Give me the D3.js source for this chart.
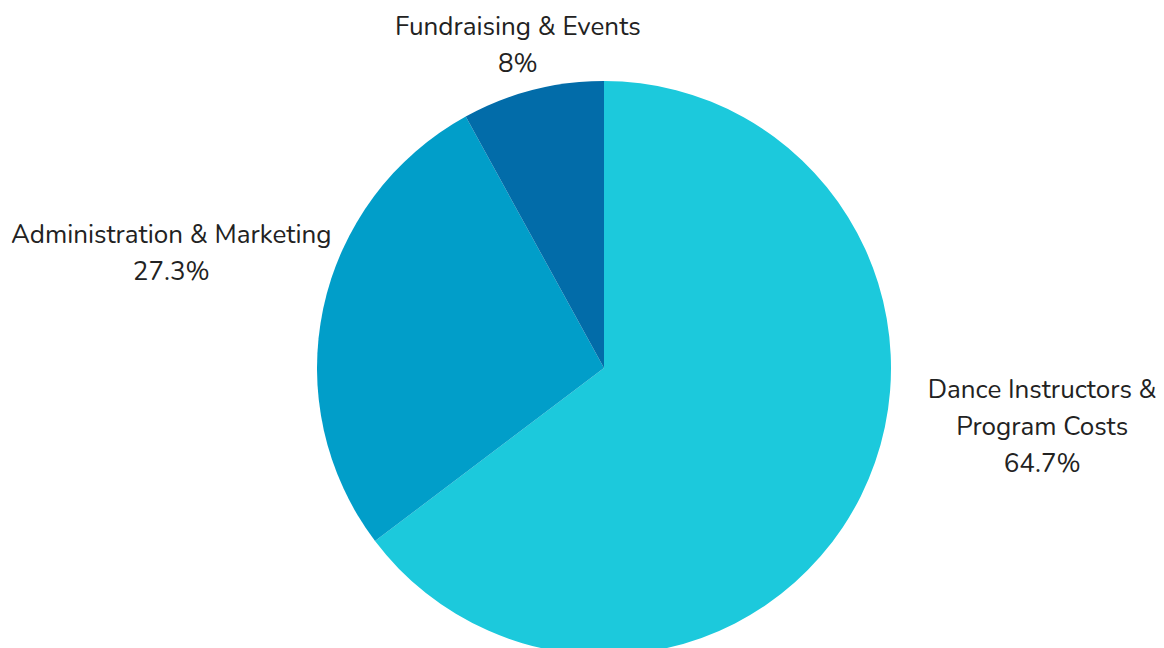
<!DOCTYPE html>
<html>
<head>
<meta charset="utf-8">
<script src="https://cdn.jsdelivr.net/npm/d3@7"></script>
<style>
  body { margin: 0; background: #fff; }
  svg { display: block; }
</style>
</head>
<body>
<svg id="chart" width="1164" height="648"></svg>
<script>
// data
var categories = ["Dance Instructors & Program Costs", "Administration & Marketing", "Fundraising & Events"];
var values = [64.7, 27.3, 8];
var valueLabels = ["64.7%", "27.3%", "8%"];
var labelLines = [["Dance Instructors &", "Program Costs"], ["Administration & Marketing"], ["Fundraising & Events"]];
var colors = ["#1cc9dc", "#019ec9", "#026ca9"];

// label placement: angle (deg, clockwise from top) and distance from center
var labelAngle = [97.5, 285, -14.9];
var labelDist = [442, 448, 335];

var svg = d3.select("#chart"),
    cx = 604, cy = 368, radius = 287;

var data = categories.map(function(c, i) {
  return { name: c, value: values[i], label: valueLabels[i], lines: labelLines[i] };
});

var pie = d3.pie()
    .sort(null)
    .value(function(d) { return d.value });

var arc = d3.arc()
    .innerRadius(0)
    .outerRadius(radius);

var g = svg.append("g")
    .attr("transform", "translate(" + cx + "," + cy + ")");

var arcs = pie(data);

g.selectAll("path")
  .data(arcs)
  .enter().append("path")
  .attr("d", arc)
  .attr("fill", function(d, i) { return colors[i] })
  .attr("stroke", "none");

var lineH = 37;

g.selectAll("text.lbl")
  .data(arcs)
  .enter().append("text")
  .attr("class", "lbl")
  .attr("text-anchor", "middle")
  .attr("font-family", "Nunito, Lato, 'Open Sans', sans-serif")
  .attr("font-size", "26px")
  .attr("fill", "#222")
  .each(function(d, i) {
    var a = labelAngle[i] * Math.PI / 180;
    var x = Math.sin(a) * labelDist[i],
        y = -Math.cos(a) * labelDist[i];
    var lines = d.data.lines.concat([d.data.label]);
    var top = y - (lines.length - 1) * lineH / 2;
    var t = d3.select(this);
    lines.forEach(function(l, k) {
      t.append("tspan")
        .attr("x", x)
        .attr("y", top + k * lineH)
        .attr("dy", "0.35em")
        .text(l);
    });
  });
</script>
</body>
</html>
